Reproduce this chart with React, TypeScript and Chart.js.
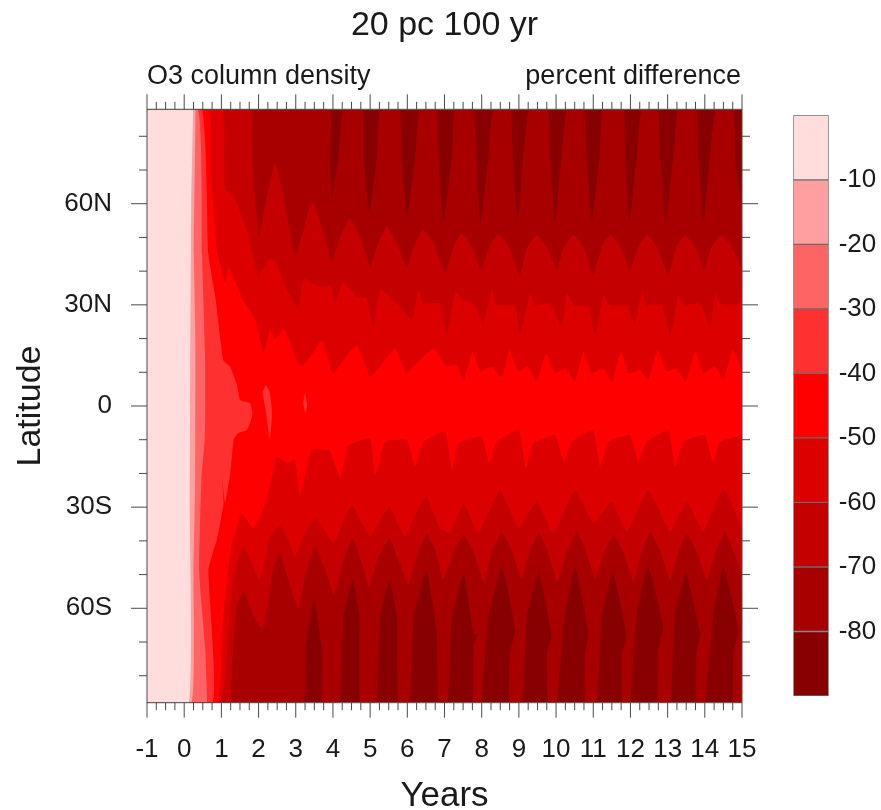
import React, { useEffect, useRef } from "react";
import { Chart, registerables } from "chart.js";

Chart.register(...registerables);

type P = [number, number];

const titleText = "20 pc 100 yr";
const leftString = "O3 column density";
const rightString = "percent difference";
const xTitle = "Years";
const yTitle = "Latitude";
const yearTicks = [-1, 0, 1, 2, 3, 4, 5, 6, 7, 8, 9, 10, 11, 12, 13, 14, 15];
const latTicks = [-60, -30, 0, 30, 60];
const latLabels = ["60S", "30S", "0", "30N", "60N"];
const latMinor = [-80, -70, -50, -40, -20, -10, 10, 20, 40, 50, 70, 80];
const levelTicks = [-10, -20, -30, -40, -50, -60, -70, -80];
const levelLows = [-10, -20, -30, -40, -50, -60, -70, -80, -90];
const levelHighs = [0, -10, -20, -30, -40, -50, -60, -70, -80];
const levelColors = ["#FFDDDD", "#FF9F9F", "#FF6464", "#FF3030", "#FF0000", "#DD0000", "#C40000", "#A80000", "#880000"];

// Contour outlines, [year, latitude]
const r10North: P[] = [[-1, 88], [0.24, 88]];
const r10South: P[] = [[-1, -88], [0.13, -88], [0.15, -30], [0.16, 0], [0.19, 60], [0.24, 88]];
const r20North: P[] = [[-1, 88], [0.31, 88]];
const r20South: P[] = [[-1, -88], [0.2, -88], [0.25, -50], [0.3, -20], [0.305, 20], [0.26, 45], [0.31, 88]];
const r30North: P[] = [[-1, 88], [0.37, 88], [0.48, 45], [0.56, 16], [0.565, 0], [0.55, -10], [0.46, -22], [0.4, -48.6], [0.46, -58], [0.565, -72], [0.62, -88]];
const r30South: P[] = [[-1, -88], [0.62, -88]];
const r40North: P[] = [[-1, 88], [0.47, 88], [0.65, 45], [0.85, 31.4], [1.05, 13.6], [1.24, 11.6], [1.42, 6.2], [1.5, 1.8], [1.77, 0.9], [1.84, -2]];
const r40South: P[] = [[-1, -88], [0.77, -88], [0.65, -48.6], [0.79, -42.7], [0.88, -39.7], [1.06, -28.8], [1.01, -20.5], [1.1, -28.8], [1.24, -19.9], [1.33, -10], [1.45, -8], [1.69, -7.1], [1.82, -3.3], [1.84, -2]];
const blobANorth: P[] = [[2.1, 4], [2.2, 6.2], [2.3, 4], [2.37, -2]];
const blobASouth: P[] = [[2.1, 4], [2.2, -2], [2.3, -10], [2.37, -2]];
const blobBNorth: P[] = [[3.2, 1], [3.25, 4], [3.31, 0]];
const blobBSouth: P[] = [[3.2, 1], [3.25, -2], [3.31, 0]];
const r50North: P[] = [[-1, 88], [0.65, 88], [0.72, 70], [0.88, 46.2], [1.1, 36.4], [1.19, 40.8], [1.59, 31.4], [1.91, 25.5], [2.13, 15.7], [2.31, 22.5], [2.45, 19.6], [2.67, 23], [3.12, 11.7], [3.39, 14.6], [3.7, 19.6], [4, 9.7], [4.28, 13.6], [4.64, 18], [5, 8.7], [5.27, 11.7], [5.67, 17], [5.98, 9.7], [6.25, 12.6], [6.7, 17], [7.06, 11.7], [7.33, 12.2], [7.51, 7.2], [7.75, 16.1], [7.96, 10.2], [8.27, 11.7], [8.54, 8.2], [8.74, 16.6], [8.99, 10.2], [9.23, 11.7], [9.48, 7.2], [9.73, 15.6], [9.97, 9.7], [10.24, 11.2], [10.51, 7.2], [10.73, 16.1], [10.96, 9.7], [11.27, 11.2], [11.5, 7.2], [11.75, 16.1], [11.95, 9.7], [12.26, 10.7], [12.48, 7.7], [12.73, 16.6], [12.97, 10.2], [13.24, 11.2], [13.49, 7.2], [13.74, 16.1], [13.96, 9.7], [14.27, 11.7], [14.5, 7.7], [14.75, 16.6], [15, 10.7]];
const r50South: P[] = [[-1, -88], [0.89, -88], [1.02, -66], [1.18, -48.6], [1.28, -40.6], [1.4, -36.8], [1.55, -31.7], [1.86, -36.3], [2.22, -27.9], [2.49, -15], [2.76, -17], [2.98, -16], [3.12, -26.4], [3.43, -13], [3.92, -13.5], [4.19, -21.4], [4.42, -11.6], [5, -9.6], [5.13, -20.5], [5.4, -10.6], [5.99, -10], [6.21, -18], [6.43, -10.6], [7.02, -7.6], [7.2, -19], [7.37, -11], [8, -9], [8.2, -17], [8.4, -10.6], [8.99, -7.1], [9.19, -18.5], [9.39, -11], [9.97, -8.6], [10.21, -16.5], [10.42, -10.6], [11, -7.1], [11.18, -18], [11.41, -10.6], [11.99, -8.6], [12.21, -16.5], [12.44, -10.6], [13.02, -7.1], [13.2, -18], [13.42, -10.6], [14, -8.6], [14.21, -16.5], [14.41, -10.6], [15, -8.6]];
const r60North: P[] = [[-1, 88], [1.02, 88], [1.08, 73.9], [1.1, 64], [1.24, 63.5], [1.42, 60], [1.68, 52.2], [2, 38.8], [2.31, 43.8], [2.49, 42.3], [2.76, 34.4], [3.07, 29], [3.21, 37.8], [3.61, 35.4], [3.92, 35.4], [4.06, 30.4], [4.28, 36.9], [4.64, 32.4], [4.91, 31.9], [5.09, 23], [5.27, 34.4], [5.72, 30.4], [6.12, 25.5], [6.3, 34.4], [6.43, 30.4], [6.88, 30.4], [7.06, 21], [7.29, 33.9], [7.55, 30.9], [7.78, 30.4], [8.05, 24.5], [8.27, 34.4], [8.41, 29.9], [8.9, 29.9], [9.03, 21], [9.3, 33.4], [9.43, 29.9], [9.84, 30.4], [10.15, 23.5], [10.29, 33.4], [10.47, 29.9], [10.87, 29.4], [11.05, 21], [11.27, 32.9], [11.45, 29.9], [11.9, 29.9], [12.12, 24.5], [12.3, 33.9], [12.44, 29.9], [12.84, 29.9], [13.07, 20.6], [13.29, 32.9], [13.42, 29.9], [13.87, 30.4], [14.14, 23.5], [14.28, 33.4], [14.41, 30.4], [14.77, 29.9], [15, 30.9]];
const r60South: P[] = [[-1, -88], [0.97, -88], [1.24, -58.4], [1.33, -49.6], [1.59, -41.7], [1.82, -46.6], [2.03, -51.6], [2.31, -38.7], [2.58, -35.3], [2.8, -39.7], [2.98, -44.7], [3.25, -37.7], [3.52, -33.3], [3.79, -37.3], [4.03, -40.7], [4.28, -34.3], [4.51, -29.3], [4.78, -34.8], [5, -38.7], [5.27, -33.8], [5.52, -29.8], [5.72, -34.3], [5.94, -38.7], [6.21, -32.3], [6.51, -26.7], [6.7, -31.8], [6.88, -36.3], [7.15, -37.7], [7.51, -28.9], [7.91, -37.7], [8.49, -24.9], [8.99, -36.3], [9.48, -28.4], [9.93, -37.7], [10.51, -24.9], [11, -34.8], [11.49, -28.4], [11.9, -37.3], [12.48, -24.9], [13.07, -37.3], [13.51, -28.4], [13.96, -37.3], [14.5, -24.4], [15, -36.3]];
const r70North: P[] = [[-1, 88], [1.76, 88], [1.82, 73.9], [1.91, 61], [2, 50.2], [2.22, 62], [2.45, 71.9], [2.67, 62], [2.98, 44.3], [3.21, 52.2], [3.43, 61], [3.7, 53], [3.97, 42.8], [4.19, 50.2], [4.46, 55.6], [4.73, 50.2], [5, 41.3], [5.22, 48.2], [5.45, 53.2], [5.72, 48.2], [5.99, 41.3], [6.21, 48.2], [6.43, 52.2], [6.66, 49.2], [7.02, 39.3], [7.24, 47.2], [7.47, 51.2], [7.73, 47.2], [7.98, 40.3], [8.21, 47.2], [8.45, 51], [8.72, 47.2], [9.03, 38.8], [9.23, 47.2], [9.48, 50.7], [9.75, 47.2], [10.02, 40.3], [10.21, 47.2], [10.47, 50.7], [10.73, 47.2], [11, 38.8], [11.23, 47.2], [11.45, 50.7], [11.72, 47.2], [11.99, 40.3], [12.21, 47.2], [12.45, 50.7], [12.71, 47.2], [13.02, 38.8], [13.23, 47.2], [13.47, 50.7], [13.74, 47.2], [13.98, 40.3], [14.18, 47.2], [14.45, 50.7], [14.72, 47.2], [15, 40.8]];
const r70South: P[] = [[-1, -88], [1.22, -88], [1.28, -77.3], [1.42, -59.5], [1.59, -55], [1.77, -59.5], [1.95, -63.9], [2.11, -65.9], [2.27, -57.5], [2.4, -47.6], [2.58, -43.7], [2.8, -51.6], [3.07, -60], [3.25, -50.6], [3.52, -41.7], [3.79, -48.6], [4.03, -56], [4.28, -45.6], [4.53, -39.2], [4.78, -46.6], [4.98, -53.6], [5.22, -44.7], [5.52, -39.2], [5.76, -45.6], [6.03, -53], [6.25, -44.7], [6.52, -37.8], [6.75, -42.7], [6.97, -51.6], [7.25, -43], [7.51, -38.2], [7.78, -43], [8.05, -52.1], [8.28, -43], [8.54, -37.3], [8.81, -43], [9.08, -51.1], [9.3, -43], [9.53, -37.7], [9.78, -43], [10.03, -52.1], [10.3, -43], [10.56, -37.3], [10.8, -43], [11.05, -51.1], [11.3, -43], [11.54, -38.2], [11.8, -43], [12.08, -52.1], [12.3, -43], [12.53, -37.3], [12.8, -43], [13.07, -51.6], [13.3, -43], [13.51, -38.2], [13.78, -43], [14.05, -51.6], [14.3, -43], [14.54, -37.3], [14.77, -43], [15, -49.6]];
const r80North: P[] = [[-1, 88], [3.9, 88], [3.92, 73.9], [3.97, 61.6], [4.15, 73.9], [4.28, 88], [4.79, 88], [4.82, 73.9], [4.98, 57.1], [5.18, 73.9], [5.27, 88], [5.79, 88], [5.85, 73.9], [5.99, 55.6], [6.21, 73.9], [6.33, 88], [6.79, 88], [6.84, 73.9], [6.97, 54.2], [7.2, 73.9], [7.28, 88], [7.78, 88], [7.85, 73.9], [7.97, 54.2], [8.18, 73.9], [8.3, 88], [8.77, 88], [8.84, 73.9], [8.97, 54.2], [9.12, 73.9], [9.28, 88], [9.78, 88], [9.84, 73.9], [9.97, 54.2], [10.15, 73.9], [10.29, 88], [10.75, 88], [10.82, 73.9], [10.96, 54.2], [11.17, 73.9], [11.27, 88], [11.81, 88], [11.86, 73.9], [11.97, 54.2], [12.17, 73.9], [12.3, 88], [12.75, 88], [12.8, 73.9], [12.96, 54.2], [13.15, 73.9], [13.29, 88], [13.77, 88], [13.83, 73.9], [13.96, 54.2], [14.14, 73.9], [14.3, 88], [14.77, 88], [14.81, 73.9], [14.95, 61], [15, 64]];
const r80South: P[] = [[-1, -88], [3.18, -88], [3.25, -72.3], [3.49, -57], [3.7, -72.3], [3.73, -88], [4.18, -88], [4.28, -62.5], [4.53, -51.6], [4.71, -62.5], [4.73, -88], [5.16, -88], [5.27, -62.5], [5.52, -51.6], [5.72, -62.5], [5.76, -88], [6.06, -88], [6.17, -62.5], [6.51, -48.6], [6.79, -67.4], [6.84, -88], [7.08, -88], [7.2, -63.4], [7.51, -49.6], [7.78, -67.4], [7.91, -67.9], [7.79, -70.4], [7.78, -88], [7.99, -88], [8.18, -62.5], [8.54, -47.6], [8.9, -66.4], [8.76, -73.3], [8.75, -88], [9.08, -88], [9.21, -62.5], [9.53, -49.6], [9.88, -68.4], [9.75, -73.3], [9.79, -88], [10.02, -88], [10.24, -61.5], [10.51, -47.6], [10.87, -67.4], [10.78, -73.3], [10.78, -88], [11.09, -88], [11.23, -62.5], [11.52, -49.1], [11.9, -68.4], [11.77, -73.3], [11.79, -88], [11.99, -88], [12.17, -61.5], [12.48, -47.6], [12.88, -65.4], [12.75, -72.3], [12.75, -88], [13.07, -88], [13.2, -61.5], [13.49, -49.6], [13.87, -67.4], [13.78, -73.3], [13.78, -88], [14, -88], [14.23, -61.5], [14.5, -47.6], [14.9, -66.4], [14.77, -73.3], [14.77, -88], [15, -88]];
const fullNorth: P[] = [[-1, 88], [15, 88]];
const fullSouth: P[] = [[-1, -88], [15, -88]];

const patches: { color: string; north: P[]; south: P[] }[] = [
  { color: levelColors[0], north: r10North, south: r10South },
  { color: levelColors[1], north: r20North, south: r20South },
  { color: levelColors[2], north: r30North, south: r30South },
  { color: levelColors[3], north: r40North, south: r40South },
  { color: levelColors[3], north: blobANorth, south: blobASouth },
  { color: levelColors[3], north: blobBNorth, south: blobBSouth },
  { color: levelColors[4], north: r50North, south: r50South },
  { color: levelColors[5], north: r60North, south: r60South },
  { color: levelColors[6], north: r70North, south: r70South },
  { color: levelColors[7], north: r80North, south: r80South },
  { color: levelColors[8], north: fullNorth, south: fullSouth },
];

const FONT = "'Liberation Sans', Arial, sans-serif";
const TEXT = "#1a1a1a";
const INK = "#4a4a4a";

const toXY = (pts: P[]) => pts.map(([x, y]) => ({ x, y }));

const framePlugin = {
  id: "ncarFrame",
  afterDatasetsDraw(chart: any) {
    const { ctx, chartArea: a, scales } = chart;
    const sx = scales.x;
    const sy = scales.y;
    ctx.save();
    ctx.strokeStyle = INK;
    ctx.lineWidth = 1;
    ctx.strokeRect(a.left, a.top, a.right - a.left, a.bottom - a.top);
    const vTick = (v: number, len: number) => {
      const p = sx.getPixelForValue(v);
      ctx.beginPath();
      ctx.moveTo(p, a.top);
      ctx.lineTo(p, a.top - len);
      ctx.moveTo(p, a.bottom);
      ctx.lineTo(p, a.bottom + len);
      ctx.stroke();
    };
    const hTick = (v: number, len: number) => {
      const p = sy.getPixelForValue(v);
      ctx.beginPath();
      ctx.moveTo(a.left, p);
      ctx.lineTo(a.left - len, p);
      ctx.moveTo(a.right, p);
      ctx.lineTo(a.right + len, p);
      ctx.stroke();
    };
    yearTicks.forEach((y, i) => {
      vTick(y, 15);
      if (i < yearTicks.length - 1) [0.25, 0.5, 0.75].forEach((f) => vTick(y + f, 7.5));
    });
    latTicks.forEach((v) => hTick(v, 16));
    latMinor.forEach((v) => hTick(v, 8));
    ctx.fillStyle = TEXT;
    ctx.font = `27px ${FONT}`;
    ctx.textBaseline = "alphabetic";
    ctx.textAlign = "left";
    ctx.fillText(leftString, a.left, 84);
    ctx.textAlign = "right";
    ctx.fillText(rightString, a.right - 1, 84);
    ctx.restore();
  },
};

export default function App() {
  const mainRef = useRef<HTMLCanvasElement>(null);
  const barRef = useRef<HTMLCanvasElement>(null);

  useEffect(() => {
    document.body.style.margin = "0";
    const datasets: any[] = [];
    patches.forEach((p, i) => {
      datasets.push({
        data: toXY(p.north),
        fill: i * 2 + 1,
        backgroundColor: p.color,
        borderColor: "transparent",
        pointRadius: 0,
        tension: 0.12,
      });
      datasets.push({
        data: toXY(p.south),
        fill: false,
        backgroundColor: p.color,
        borderColor: "transparent",
        pointRadius: 0,
        tension: 0.12,
      });
    });
    const main = new Chart(mainRef.current as HTMLCanvasElement, {
      type: "line",
      data: { datasets },
      plugins: [framePlugin],
      options: {
        responsive: false,
        animation: false,
        events: [],
        layout: { padding: { right: 139, left: 0, top: 0, bottom: 0 } },
        plugins: {
          legend: { display: false },
          tooltip: { enabled: false },
          title: {
            display: true,
            text: titleText,
            fullSize: false,
            color: TEXT,
            font: { family: FONT, size: 34, weight: "normal" },
            padding: { top: 5, bottom: 63.5 },
          },
        },
        scales: {
          x: {
            type: "linear",
            min: -1,
            max: 15,
            border: { display: false },
            grid: { display: false, tickLength: 15 },
            afterBuildTicks: (s: any) => {
              s.ticks = yearTicks.map((value) => ({ value }));
            },
            afterFit: (s: any) => {
              s.height = 107.3;
            },
            ticks: {
              autoSkip: false,
              maxRotation: 0,
              color: TEXT,
              padding: 17,
              font: { family: FONT, size: 26 },
              callback: (v: any) => String(v),
            },
            title: {
              display: true,
              text: xTitle,
              color: TEXT,
              font: { family: FONT, size: 35 },
              padding: { top: 0, bottom: -7 },
            },
          },
          y: {
            type: "linear",
            min: -88,
            max: 88,
            border: { display: false },
            grid: { display: false, tickLength: 16 },
            afterBuildTicks: (s: any) => {
              s.ticks = latTicks.map((value) => ({ value }));
            },
            afterFit: (s: any) => {
              s.width = 147;
            },
            ticks: {
              autoSkip: false,
              color: TEXT,
              padding: 19,
              font: { family: FONT, size: 26 },
              callback: (v: any) => latLabels[latTicks.indexOf(v)] ?? "",
            },
            title: {
              display: true,
              text: yTitle,
              color: TEXT,
              font: { family: FONT, size: 34 },
              padding: { top: 10, bottom: 0 },
            },
          },
        },
      },
    } as any);

    const bar = new Chart(barRef.current as HTMLCanvasElement, {
      type: "bar",
      data: {
        labels: [""],
        datasets: levelColors.map((c, i) => ({
          data: [[levelLows[i], levelHighs[i]]],
          backgroundColor: c,
          borderColor: "#6a6a6a",
          borderWidth: 1,
          borderSkipped: false,
          grouped: false,
          barPercentage: 1,
          categoryPercentage: 1,
        })),
      },
      options: {
        responsive: false,
        animation: false,
        events: [],
        layout: { padding: { left: 12.3, top: 115.3, bottom: 114, right: 0 } },
        plugins: { legend: { display: false }, tooltip: { enabled: false } },
        scales: {
          x: { display: false },
          y: {
            position: "right",
            min: -90,
            max: 0,
            border: { display: false },
            grid: { display: false, drawTicks: false },
            afterBuildTicks: (s: any) => {
              s.ticks = levelTicks.map((value) => ({ value }));
            },
            afterFit: (s: any) => {
              s.width = 52.3;
            },
            ticks: {
              autoSkip: false,
              color: TEXT,
              padding: 10,
              font: { family: FONT, size: 26 },
              callback: (v: any) => String(v),
            },
          },
        },
      },
    } as any);

    return () => {
      main.destroy();
      bar.destroy();
    };
  }, []);

  return (
    <div style={{ position: "absolute", left: 0, top: 0, width: 881, height: 810, background: "#fff", overflow: "hidden", filter: "blur(0.45px)" }}>
      <canvas ref={mainRef} width={881} height={810} style={{ position: "absolute", left: 0, top: 0 }} />
      <canvas ref={barRef} width={100} height={810} style={{ position: "absolute", left: 781, top: 0 }} />
    </div>
  );
}
